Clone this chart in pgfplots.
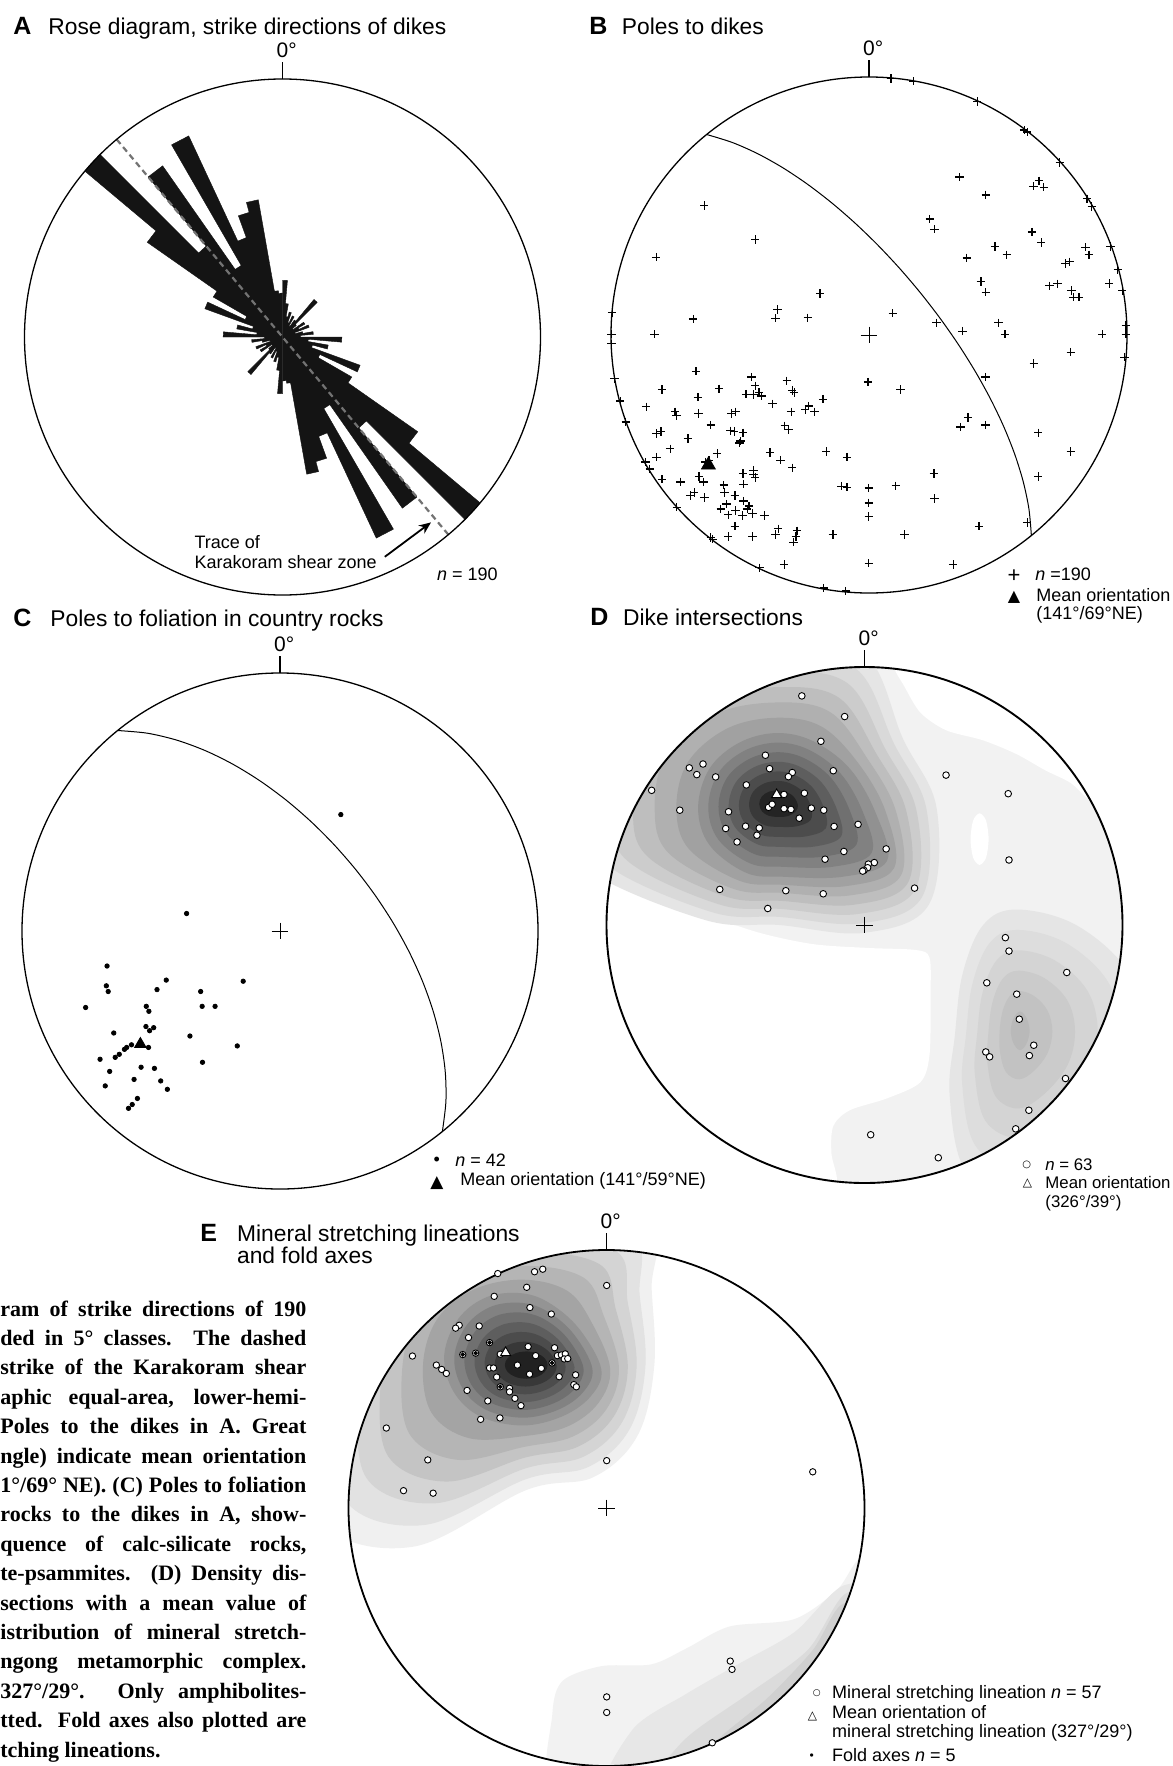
\documentclass[border=0pt]{standalone}
\usepackage{pgfplots}
\pgfplotsset{compat=1.18}
\usepackage{pgfplotstable}
\usetikzlibrary{arrows.meta}
\usepackage{fontspec}
\setmainfont{Liberation Sans}
\newfontfamily\capfont{Liberation Serif}
\newfontfamily\symfont{DejaVu Sans}

\definecolor{rosefill}{gray}{0.08}
\definecolor{traceline}{gray}{0.45}
\definecolor{dbg}{gray}{0.95}
% density bands, panel D (outer -> middle, middle -> core)
\definecolor{dd0}{gray}{0.900}\definecolor{dd1}{gray}{0.850}\definecolor{dd2}{gray}{0.800}
\definecolor{dd3}{gray}{0.745}\definecolor{dd4}{gray}{0.690}\definecolor{dd5}{gray}{0.630}
\definecolor{de0}{gray}{0.570}\definecolor{de1}{gray}{0.505}\definecolor{de2}{gray}{0.440}
\definecolor{de3}{gray}{0.370}\definecolor{de4}{gray}{0.300}\definecolor{de5}{gray}{0.225}
\definecolor{de6}{gray}{0.140}
% secondary lobe, panel D
\definecolor{ds0}{gray}{0.900}\definecolor{ds1}{gray}{0.865}\definecolor{ds2}{gray}{0.830}
\definecolor{ds3}{gray}{0.795}\definecolor{ds4}{gray}{0.760}\definecolor{ds5}{gray}{0.725}
% density bands, panel E
\definecolor{ee0}{gray}{0.940}\definecolor{ee1}{gray}{0.885}\definecolor{ee2}{gray}{0.830}
\definecolor{ee3}{gray}{0.770}\definecolor{ee4}{gray}{0.710}\definecolor{ee5}{gray}{0.645}
\definecolor{ef0}{gray}{0.580}\definecolor{ef1}{gray}{0.510}\definecolor{ef2}{gray}{0.440}
\definecolor{ef3}{gray}{0.370}\definecolor{ef4}{gray}{0.300}\definecolor{ef5}{gray}{0.220}
\definecolor{ef6}{gray}{0.130}
\definecolor{es1}{gray}{0.950}\definecolor{es2}{gray}{0.905}\definecolor{es3}{gray}{0.860}
\definecolor{es4}{gray}{0.815}

\pgfplotsset{
  stereonet/.style={width=258pt, height=258pt, scale only axis,
    xmin=-1, xmax=1, ymin=-1, ymax=1, hide axis, clip=false, anchor=center},
}

% primitive circle, north tick and its label
\newcommand{\netframe}[1]{%
  \draw[line width=#1] (axis cs:0,0) circle[radius=129pt];
  \draw[line width=0.6pt] (axis cs:0,1) -- (axis cs:0,1.066);
  \node[anchor=base, inner sep=0, xshift=2.1pt, font=\fontsize{10.5}{12}\selectfont]
    at (axis cs:0,1.083) {0°};
}
\newcommand{\netcentre}{%
  \addplot[only marks, mark=+, mark size=4.2pt, line width=0.4pt] coordinates {(0,0)};
}
\newcommand{\netmask}{%
  \fill[white, even odd rule] (axis cs:-1.2,-1.2) rectangle (axis cs:1.2,1.2)
    (axis cs:0,0) circle[radius=129pt];
}

% ---------------- rose diagram: 5 degree classes, length relative to radius
\pgfplotstableread{
az len
0 0.22
5 0.22
5 0.13
10 0.13
10 0.08
15 0.08
15 0.10
20 0.10
20 0.06
25 0.06
25 0.09
30 0.09
30 0.05
35 0.05
35 0.08
40 0.08
40 0.19
45 0.19
45 0.07
50 0.07
50 0.05
55 0.05
55 0.10
60 0.10
60 0.07
65 0.07
65 0.11
70 0.11
70 0.05
75 0.05
75 0.08
80 0.08
80 0.12
85 0.12
85 0.07
90 0.07
90 0.23
95 0.23
95 0.10
100 0.10
100 0.18
105 0.18
105 0.12
110 0.12
110 0.32
115 0.32
115 0.16
120 0.16
120 0.31
125 0.31
125 0.64
130 0.64
130 1.00
135 1.00
135 0.46
140 0.46
140 0.81
145 0.81
145 0.32
150 0.32
150 0.86
155 0.86
155 0.41
160 0.41
160 0.50
165 0.50
165 0.54
170 0.54
170 0.18
175 0.18
175 0.17
180 0.17
}\rose

% ---------------- great circles (equal-area), 141/69 NE and 141/59 NE
\pgfplotstableread{
x y
-0.62932 0.77715
-0.53005 0.74628
-0.43192 0.70295
-0.33503 0.64884
-0.23959 0.58524
-0.14597 0.51336
-0.05462 0.43419
0.03392 0.34867
0.11910 0.25772
0.20029 0.16219
0.27686 0.06290
0.34810 -0.03932
0.41334 -0.14371
0.47179 -0.24953
0.52264 -0.35603
0.56499 -0.46261
0.59779 -0.56863
0.61977 -0.67363
0.62932 -0.77715
}\gcB
\pgfplotstableread{
x y
-0.62932 0.77715
-0.51337 0.76657
-0.39965 0.73967
-0.28855 0.69870
-0.18052 0.64533
-0.07606 0.58103
0.02423 0.50705
0.11973 0.42450
0.20979 0.33443
0.29371 0.23785
0.37074 0.13569
0.44011 0.02887
0.50099 -0.08172
0.55251 -0.19521
0.59369 -0.31073
0.62343 -0.42751
0.64042 -0.54470
0.64307 -0.66154
0.62932 -0.77715
}\gcC

% ---------------- poles to dikes
\pgfplotstableread{
x y
0.0853 0.9940
0.1728 0.9837
0.4194 0.9053
0.6014 0.7944
0.6129 0.7870
0.7391 0.6686
0.8452 0.5281
0.8638 0.4985
0.9355 0.3432
0.9642 0.2544
0.9814 0.1731
0.9957 0.0370
0.9957 0.0030
0.9900 -0.0858
0.3262 -0.8890
-0.0896 -0.9926
-0.1756 -0.9808
-0.3290 -0.8890
-0.4237 -0.9024
-0.6057 -0.7914
-0.6129 -0.7855
-0.7448 -0.6672
-0.8495 -0.5192
-0.8667 -0.4926
-0.9427 -0.3373
-0.9642 -0.2559
-0.9857 -0.1701
-0.9980 -0.0340
-0.9980 0.0030
-0.9957 0.0873
0.3505 0.6124
0.4523 0.5429
0.6373 0.5769
0.6588 0.5976
0.6774 0.5725
0.2358 0.4497
0.2545 0.4098
0.6316 0.3994
0.6674 0.3580
0.4882 0.3432
0.5341 0.3107
0.3792 0.2988
0.8394 0.3402
0.8523 0.3107
0.7606 0.2766
0.7778 0.2840
0.4337 0.2071
0.4523 0.1657
0.6989 0.1908
0.7305 0.1982
0.7849 0.1731
0.7921 0.1464
0.8136 0.1464
0.9312 0.1997
0.5025 0.0473
0.5269 0.0030
0.3620 0.0148
0.9039 0.0030
0.7821 -0.0666
0.6387 -0.1109
0.2616 0.0473
0.0925 0.0843
0.4509 -0.1627
0.3835 -0.3195
0.3548 -0.3565
0.4509 -0.3491
0.6559 -0.3787
0.7821 -0.4512
0.6559 -0.5488
0.2516 -0.5370
0.2545 -0.6331
0.1039 -0.5843
0.4265 -0.7411
0.6129 -0.7263
0.1369 -0.7737
-0.6387 0.5015
-0.4409 0.3698
-0.8251 0.3018
-0.1900 0.1612
-0.3548 0.0991
-0.3620 0.0651
-0.2373 0.0666
-0.6817 0.0621
-0.8308 0.0030
-0.6703 -0.1405
-0.4552 -0.1627
-0.4409 -0.1967
-0.4767 -0.2293
-0.4480 -0.2308
-0.4265 -0.2219
-0.4165 -0.2367
-0.3190 -0.1775
-0.2975 -0.2145
-0.2903 -0.2234
-0.1785 -0.2485
-0.3735 -0.2663
-0.8022 -0.2115
-0.5814 -0.2086
-0.6631 -0.2411
-0.8638 -0.2781
-0.7520 -0.2973
-0.7462 -0.3121
-0.6602 -0.3047
-0.5341 -0.3047
-0.5168 -0.2973
-0.3018 -0.2973
-0.2473 -0.2899
-0.2330 -0.2751
-0.2115 -0.2973
-0.8237 -0.3817
-0.8065 -0.3743
-0.7018 -0.4009
-0.6129 -0.3491
-0.5369 -0.3713
-0.5226 -0.3743
-0.4882 -0.3787
-0.4982 -0.4112
-0.5025 -0.4186
-0.3262 -0.3521
-0.3118 -0.3669
-0.7706 -0.4408
-0.8237 -0.4734
-0.5885 -0.4586
-0.3835 -0.4556
-0.3434 -0.4852
-0.2975 -0.5148
-0.1656 -0.4512
-0.0853 -0.4734
-0.0036 -0.1820
0.1226 -0.2115
-0.6344 -0.4926
-0.6201 -0.4852
-0.6588 -0.5488
-0.6416 -0.5695
-0.7305 -0.5695
-0.8022 -0.5592
-0.5627 -0.5814
-0.4882 -0.5370
-0.4480 -0.5251
-0.4480 -0.5399
-0.4409 -0.5518
-0.4867 -0.5784
-0.6774 -0.6109
-0.6918 -0.6213
-0.6373 -0.6302
-0.5599 -0.6109
-0.5197 -0.6228
-0.5527 -0.6553
-0.4867 -0.6435
-0.4652 -0.6627
-0.4724 -0.6746
-0.5742 -0.6746
-0.5455 -0.6967
-0.5168 -0.6805
-0.4910 -0.6997
-0.4523 -0.6923
-0.4050 -0.6997
-0.5197 -0.7411
-0.5455 -0.7811
-0.4523 -0.7811
-0.3620 -0.7737
-0.3520 -0.7515
-0.2932 -0.8033
-0.2832 -0.7811
-0.2789 -0.7589
-0.1398 -0.7737
-0.1068 -0.5858
-0.0853 -0.5902
-0.0007 -0.5932
-0.0007 -0.6509
-0.0007 -0.7041
-0.0007 -0.8846
}\dikepoles

% ---------------- poles to foliation
\pgfplotstableread{
x y
0.2358 0.4513
-0.3620 0.0678
-0.6703 -0.1357
-0.6731 -0.2124
-0.6659 -0.2345
-0.4409 -0.1903
-0.4767 -0.2271
-0.3075 -0.2345
-0.1427 -0.1947
-0.7534 -0.2965
-0.5183 -0.2920
-0.5082 -0.3112
-0.3018 -0.2920
-0.2516 -0.2920
-0.6444 -0.3953
-0.5197 -0.3702
-0.5054 -0.3864
-0.4896 -0.3746
-0.3491 -0.4071
-0.1656 -0.4454
-0.5756 -0.4410
-0.5943 -0.4513
-0.6029 -0.4587
-0.6229 -0.4779
-0.6387 -0.4897
-0.5097 -0.4513
-0.6975 -0.4971
-0.5384 -0.5280
-0.4867 -0.5324
-0.3004 -0.5088
-0.6602 -0.5442
-0.5656 -0.5752
-0.4624 -0.5811
-0.4366 -0.6136
-0.6774 -0.6003
-0.5527 -0.6490
-0.5728 -0.6726
-0.5871 -0.6873
}\foliation

% ---------------- dike intersections
\pgfplotstableread{
x y
-0.243 0.888
-0.077 0.808
-0.169 0.712
-0.384 0.658
-0.368 0.606
-0.280 0.591
-0.295 0.575
-0.121 0.598
-0.679 0.609
-0.626 0.624
-0.650 0.583
-0.577 0.574
-0.825 0.522
-0.716 0.445
-0.458 0.543
-0.233 0.511
-0.312 0.506
-0.372 0.456
-0.358 0.468
-0.312 0.451
-0.285 0.448
-0.206 0.453
-0.158 0.445
-0.253 0.414
-0.527 0.439
-0.538 0.374
-0.461 0.383
-0.408 0.376
-0.417 0.348
-0.494 0.322
-0.118 0.382
-0.025 0.390
-0.080 0.285
-0.153 0.255
0.084 0.295
0.038 0.242
0.015 0.236
0.012 0.222
-0.002 0.212
-0.007 0.209
-0.561 0.138
-0.305 0.133
-0.160 0.121
-0.375 0.064
0.194 0.143
0.316 0.581
0.557 0.509
0.560 0.252
0.546 -0.049
0.560 -0.101
0.784 -0.184
0.474 -0.224
0.590 -0.268
0.600 -0.365
0.470 -0.492
0.485 -0.511
0.656 -0.466
0.639 -0.506
0.779 -0.595
0.637 -0.718
0.586 -0.790
0.286 -0.902
0.024 -0.813
}\intersections

% ---------------- mineral stretching lineations and fold axes
\pgfplotstableread{
x y
-0.4215 0.9088
-0.2789 0.9158
-0.2471 0.9257
-0.3093 0.8555
0.0007 0.8626
-0.4353 0.8205
-0.2969 0.7770
-0.2138 0.7518
-0.4934 0.7055
-0.5709 0.7083
-0.5848 0.6971
-0.5349 0.6606
-0.4533 0.6410
-0.7522 0.5891
-0.5571 0.5947
-0.5073 0.6003
-0.4118 0.5961
-0.6595 0.5540
-0.6388 0.5372
-0.6208 0.5217
-0.4533 0.5428
-0.4381 0.5428
-0.4256 0.5077
-0.3038 0.6255
-0.2747 0.5905
-0.3453 0.5540
-0.2526 0.5414
-0.2983 0.5189
-0.2014 0.6213
-0.1903 0.5905
-0.1751 0.5933
-0.1599 0.5975
-0.1640 0.5778
-0.1502 0.5792
-0.2111 0.5624
-0.1834 0.5091
-0.1197 0.5161
-0.1266 0.4783
-0.1170 0.4698
-0.5405 0.4558
-0.4118 0.4698
-0.3758 0.4642
-0.3758 0.4502
-0.3550 0.4250
-0.3315 0.3969
-0.4602 0.4151
-0.4879 0.3436
-0.4131 0.3492
-0.8533 0.3100
-0.6927 0.1865
0.0007 0.1837
-0.7868 0.0673
-0.6720 0.0575
0.7994 0.1403
0.4796 -0.5933
0.4865 -0.6255
0.0007 -0.7321
0.0007 -0.7924
0.4100 -0.9100
}\lineations
\pgfplotstableread{
x y
-0.4533 0.6410
-0.5571 0.5947
-0.4118 0.4698
-0.2111 0.5624
-0.5073 0.6003
}\foldaxes

% ---------------- density outlines (outer, middle, core) around the maxima
\pgfplotstableread{
ox oy mx my ix iy
0.28 0.45 0.044 0.433 -0.258 0.463
0.15 0.72 -0.057 0.606 -0.275 0.498
0.00 1.05 -0.200 0.713 -0.308 0.517
-0.33 1.10 -0.343 0.744 -0.337 0.521
-0.76 1.04 -0.487 0.706 -0.370 0.517
-1.10 0.76 -0.601 0.606 -0.398 0.498
-1.15 0.45 -0.645 0.454 -0.408 0.469
-1.08 0.22 -0.601 0.310 -0.397 0.440
-0.62 0.02 -0.458 0.202 -0.370 0.423
-0.33 0.00 -0.315 0.187 -0.333 0.419
0.00 -0.03 -0.085 0.187 -0.297 0.422
0.25 0.08 0.087 0.248 -0.268 0.439
}\dmain
\pgfplotstableread{
ox oy ix iy
1.08 -0.42 0.640 -0.410
1.02 -0.18 0.632 -0.370
0.82 0.00 0.618 -0.345
0.59 0.06 0.603 -0.335
0.46 0.00 0.588 -0.345
0.38 -0.19 0.574 -0.370
0.35 -0.43 0.567 -0.410
0.33 -0.66 0.574 -0.450
0.39 -0.95 0.588 -0.475
0.59 -1.05 0.603 -0.485
0.82 -0.92 0.618 -0.475
1.02 -0.68 0.632 -0.450
}\dlobe
\pgfplotstableread{
ox oy mx my ix iy
0.185 0.55 -0.020 0.537 -0.228 0.554
0.175 0.85 -0.103 0.691 -0.240 0.581
0.16 1.10 -0.214 0.790 -0.270 0.600
-0.31 1.15 -0.325 0.832 -0.311 0.607
-0.75 1.00 -0.463 0.818 -0.352 0.600
-1.05 0.75 -0.574 0.734 -0.383 0.581
-1.12 0.40 -0.629 0.593 -0.394 0.554
-1.10 -0.05 -0.594 0.453 -0.383 0.527
-0.75 -0.15 -0.490 0.355 -0.352 0.508
-0.31 0.07 -0.325 0.320 -0.311 0.501
-0.05 0.12 -0.172 0.355 -0.270 0.508
0.12 0.28 -0.062 0.432 -0.240 0.527
}\emain

\begin{document}
\begin{tikzpicture}
\useasboundingbox (0,0) rectangle (586pt,-883pt);
\fill[white] (0,0) rectangle (586pt,-883pt);

% ===================== A: rose diagram
\begin{axis}[stereonet, at={(141.25pt,-168.5pt)}]
  \addplot[fill=rosefill, draw=rosefill, line width=0.2pt]
    table[x expr={\thisrow{len}*sin(\thisrow{az})}, y expr={\thisrow{len}*cos(\thisrow{az})}] {\rose} -- cycle;
  \addplot[fill=rosefill, draw=rosefill, line width=0.2pt]
    table[x expr={-\thisrow{len}*sin(\thisrow{az})}, y expr={-\thisrow{len}*cos(\thisrow{az})}] {\rose} -- cycle;
  \addplot[traceline, line width=1.1pt, dash pattern=on 3pt off 2pt]
    coordinates {(-0.6428,0.7660) (0.6428,-0.7660)};
  \draw[-{Stealth[length=6pt,width=5pt]}, line width=0.9pt]
    (axis cs:0.3965,-0.852) -- (axis cs:0.5756,-0.7186);
  \netframe{0.65pt}
\end{axis}

% ===================== B: poles to dikes
\begin{axis}[stereonet, at={(434.5pt,-167.5pt)}]
  \netframe{0.65pt}
  \addplot[line width=0.5pt, smooth] table {\gcB};
  \addplot[only marks, mark=+, mark size=2.1pt, line width=0.6pt] table {\dikepoles};
  \netcentre
  \addplot[only marks, mark=triangle*, mark size=4pt, mark options={fill=black, draw=black}]
    coordinates {(-0.6225,-0.5041)};
\end{axis}

% ===================== C: poles to foliation
\begin{axis}[stereonet, at={(140pt,-465.5pt)}]
  \netframe{0.65pt}
  \addplot[line width=0.5pt, smooth] table {\gcC};
  \addplot[only marks, mark=*, mark size=1.1pt, mark options={fill=black, draw=black}] table {\foliation};
  \netcentre
  \addplot[only marks, mark=triangle*, mark size=3.3pt, mark options={fill=black, draw=black}]
    coordinates {(-0.5412,-0.4383)};
\end{axis}

% ===================== D: dike intersections
\begin{axis}[stereonet, at={(432.25pt,-462.5pt)}]
  \fill[dbg] (axis cs:0,0) circle[radius=129pt];
  % areas below the lowest contour
  \addplot[draw=none, fill=white, smooth cycle, tension=0.5] coordinates {
    (-1.1,0.2) (-0.996,0.187) (-0.845,0.156) (-0.63,0.049) (-0.415,-0.028) (-0.2,-0.074)
    (0.015,-0.089) (0.2,-0.097) (0.252,-0.127) (0.256,-0.273) (0.252,-0.503) (0.216,-0.61)
    (0.087,-0.672) (-0.057,-0.718) (-0.121,-0.779) (-0.128,-0.887) (-0.107,-0.994)
    (-0.15,-1.1) (-0.6,-0.95) (-0.95,-0.6) (-1.12,-0.1)};
  \addplot[draw=none, fill=white, smooth cycle, tension=0.5] coordinates {
    (0.115,0.997) (0.151,0.931) (0.216,0.824) (0.316,0.755) (0.459,0.716) (0.588,0.663)
    (0.700,0.600) (0.800,0.550) (0.900,0.470) (1.1,0.45)
    (1.0,0.8) (0.65,1.0) (0.1,1.1)};
  % main maximum
  \pgfplotsinvokeforeach{0,...,5}{
    \addplot[draw=none, fill=dd#1, smooth cycle, tension=0.6]
      table[x expr={\thisrow{ox}+#1/6*(\thisrow{mx}-\thisrow{ox})},
            y expr={\thisrow{oy}+#1/6*(\thisrow{my}-\thisrow{oy})}] {\dmain};
  }
  \pgfplotsinvokeforeach{0,...,6}{
    \addplot[draw=none, fill=de#1, smooth cycle, tension=0.6]
      table[x expr={\thisrow{mx}+#1/6*(\thisrow{ix}-\thisrow{mx})},
            y expr={\thisrow{my}+#1/6*(\thisrow{iy}-\thisrow{my})}] {\dmain};
  }
  % secondary maximum
  \pgfplotsinvokeforeach{0,...,5}{
    \addplot[draw=none, fill=ds#1, smooth cycle, tension=0.6]
      table[x expr={\thisrow{ox}+#1/5*(\thisrow{ix}-\thisrow{ox})},
            y expr={\thisrow{oy}+#1/5*(\thisrow{iy}-\thisrow{oy})}] {\dlobe};
  }
  \addplot[draw=none, fill=white, smooth cycle] coordinates {
    (0.481,0.333) (0.471,0.405) (0.446,0.433) (0.421,0.405) (0.411,0.333) (0.421,0.261)
    (0.446,0.233) (0.471,0.261)};
  \netmask
  \netframe{0.95pt}
  \netcentre
  \addplot[only marks, mark=*, mark size=1.65pt, mark options={fill=white, draw=black, line width=0.45pt}]
    table {\intersections};
  \addplot[only marks, mark=triangle*, mark size=2.9pt, mark options={fill=white, draw=black, line width=0.45pt}]
    coordinates {(-0.3405,0.5048)};
\end{axis}

% ===================== E: stretching lineations and fold axes
\begin{axis}[stereonet, at={(303.25pt,-754pt)}]
  \pgfplotsinvokeforeach{0,...,5}{
    \addplot[draw=none, fill=ee#1, smooth cycle, tension=0.6]
      table[x expr={\thisrow{ox}+#1/6*(\thisrow{mx}-\thisrow{ox})},
            y expr={\thisrow{oy}+#1/6*(\thisrow{my}-\thisrow{oy})}] {\emain};
  }
  \pgfplotsinvokeforeach{0,...,6}{
    \addplot[draw=none, fill=ef#1, smooth cycle, tension=0.6]
      table[x expr={\thisrow{mx}+#1/6*(\thisrow{ix}-\thisrow{mx})},
            y expr={\thisrow{my}+#1/6*(\thisrow{iy}-\thisrow{my})}] {\emain};
  }
  \addplot[draw=none, fill=es1, smooth cycle, tension=0.5] coordinates {
    (-0.20,-1.12) (-0.21,-0.80) (-0.17,-0.67) (-0.02,-0.613) (0.174,-0.606) (0.312,-0.543)
    (0.478,-0.459) (0.727,-0.431) (0.893,-0.318) (0.99,-0.19) (1.12,-0.25) (1.05,-0.65)
    (0.75,-0.95) (0.3,-1.1)};
  \addplot[draw=none, fill=es2, smooth cycle, tension=0.5] coordinates {
    (0.0,-1.12) (0.10,-0.86) (0.31,-0.72) (0.52,-0.60) (0.73,-0.48) (0.92,-0.30)
    (1.1,-0.35) (1.0,-0.8) (0.5,-1.1)};
  \addplot[draw=none, fill=es3, smooth cycle, tension=0.5] coordinates {
    (0.17,-1.1) (0.30,-0.90) (0.55,-0.72) (0.78,-0.55) (0.93,-0.33) (1.1,-0.4)
    (0.9,-0.9) (0.45,-1.1)};
  \addplot[draw=none, fill=es4, smooth cycle, tension=0.5] coordinates {
    (0.35,-1.1) (0.40,-0.93) (0.62,-0.74) (0.80,-0.55) (0.92,-0.37) (1.1,-0.45)
    (0.95,-0.9) (0.6,-1.08)};
  \netmask
  \netframe{0.9pt}
  \netcentre
  \addplot[only marks, mark=*, mark size=1.6pt, mark options={fill=white, draw=black, line width=0.45pt}]
    table {\lineations};
  \addplot[only marks, mark=*, mark size=0.9pt, mark options={fill=black, draw=black}]
    table {\foldaxes};
  \addplot[only marks, mark=triangle*, mark size=2.9pt, mark options={fill=white, draw=black, line width=0.45pt}]
    coordinates {(-0.3909,0.6020)};
\end{axis}

% ===================== panel titles
\begin{scope}[every node/.style={anchor=base west, inner sep=0}]
\node[font=\bfseries\fontsize{12.5}{14}\selectfont] at (6.5pt,-17.2pt) {A};
\node[font=\fontsize{11.4}{13}\selectfont] at (24pt,-17.2pt) {Rose diagram, strike directions of dikes};
\node[font=\bfseries\fontsize{12.5}{14}\selectfont] at (294.5pt,-17.2pt) {B};
\node[font=\fontsize{11.4}{13}\selectfont] at (310.75pt,-17.2pt) {Poles to dikes};
\node[font=\bfseries\fontsize{12.5}{14}\selectfont] at (6.5pt,-313pt) {C};
\node[font=\fontsize{11.4}{13}\selectfont] at (25pt,-313pt) {Poles to foliation in country rocks};
\node[font=\bfseries\fontsize{12.5}{14}\selectfont] at (295pt,-312.85pt) {D};
\node[font=\fontsize{11.4}{13}\selectfont] at (311.35pt,-312.85pt) {Dike intersections};
\node[font=\bfseries\fontsize{12.5}{14}\selectfont] at (100pt,-620.85pt) {E};
\node[font=\fontsize{11.4}{13}\selectfont] at (118.35pt,-620.85pt) {Mineral stretching lineations};
\node[font=\fontsize{11.4}{13}\selectfont] at (118.35pt,-631.95pt) {and fold axes};

% ===================== annotations and keys
\begin{scope}[every node/.append style={font=\fontsize{9}{10.5}\selectfont}]
\node at (97.1pt,-274.2pt) {Trace of};
\node at (97.1pt,-284.15pt) {Karakoram shear zone};
\node at (218.3pt,-290.25pt) {\textit{n} = 190};
\node at (517.5pt,-290.35pt) {\textit{n} =190};
\node at (518pt,-300.85pt) {Mean orientation};
\node at (518pt,-309.5pt) {(141°/69°NE)};
\node at (227.5pt,-583.35pt) {\textit{n} = 42};
\node at (230pt,-592.85pt) {Mean orientation (141°/59°NE)};
\node at (415.85pt,-849.15pt) {Mineral stretching lineation \textit{n} = 57};
\node at (415.85pt,-859.15pt) {Mean orientation of};
\node at (415.85pt,-868.65pt) {mineral stretching lineation (327°/29°)};
\node at (415.85pt,-880.85pt) {Fold axes \textit{n} = 5};
\end{scope}
\begin{scope}[every node/.append style={font=\fontsize{8.4}{10}\selectfont}]
\node at (522.5pt,-585.35pt) {\textit{n} = 63};
\node at (522.5pt,-594.15pt) {Mean orientation};
\node at (522.5pt,-603.65pt) {(326°/39°)};
\end{scope}
\end{scope}

\begin{scope}[every node/.style={anchor=center, inner sep=0}]
\node[font=\fontsize{11}{13}\selectfont] at (507pt,-288.25pt) {+};
\node[font=\symfont\fontsize{8}{10}\selectfont] at (507pt,-298.5pt) {▲};
\node[font=\fontsize{9}{10}\selectfont] at (218.35pt,-580.85pt) {•};
\node[font=\symfont\fontsize{8.5}{10}\selectfont] at (218.5pt,-591.5pt) {▲};
\node[font=\symfont\fontsize{5}{7}\selectfont] at (513.35pt,-582.5pt) {○};
\node[font=\symfont\fontsize{6}{8}\selectfont] at (513.75pt,-591.75pt) {△};
\node[font=\symfont\fontsize{4.5}{6}\selectfont] at (408.35pt,-846.65pt) {○};
\node[font=\symfont\fontsize{6}{8}\selectfont] at (406.25pt,-858.25pt) {△};
\node[font=\fontsize{6}{8}\selectfont] at (405.85pt,-878.35pt) {•};
\end{scope}

% ===================== caption text
\begin{scope}[every node/.style={anchor=base west, inner sep=0,
    font=\capfont\bfseries\fontsize{11}{13}\selectfont}]
\node at (0pt,-658pt)   {\makebox[153pt][s]{ram of strike directions of 190}};
\node at (0pt,-672.7pt) {\makebox[153pt][s]{ded in 5° classes. The dashed}};
\node at (0pt,-687.4pt) {\makebox[153pt][s]{strike of the Karakoram shear}};
\node at (0pt,-702.1pt) {\makebox[153pt][s]{aphic equal-area, lower-hemi-}};
\node at (0pt,-716.8pt) {\makebox[153pt][s]{Poles to the dikes in A. Great}};
\node at (0pt,-731.5pt) {\makebox[153pt][s]{ngle) indicate mean orientation}};
\node at (0pt,-746.2pt) {\makebox[153pt][s]{1°/69° NE). (C) Poles to foliation}};
\node at (0pt,-760.9pt) {\makebox[153pt][s]{rocks to the dikes in A, show-}};
\node at (0pt,-775.6pt) {\makebox[153pt][s]{quence of calc-silicate rocks,}};
\node at (0pt,-790.3pt) {\makebox[153pt][s]{te-psammites. (D) Density dis-}};
\node at (0pt,-805pt)   {\makebox[153pt][s]{sections with a mean value of}};
\node at (0pt,-819.7pt) {\makebox[153pt][s]{istribution of mineral stretch-}};
\node at (0pt,-834.4pt) {\makebox[153pt][s]{ngong metamorphic complex.}};
\node at (0pt,-849.1pt) {\makebox[153pt][s]{327°/29°. Only amphibolites-}};
\node at (0pt,-863.8pt) {\makebox[153pt][s]{tted. Fold axes also plotted are}};
\node at (0pt,-878.5pt) {tching lineations.};
\end{scope}
\end{tikzpicture}
\end{document}
